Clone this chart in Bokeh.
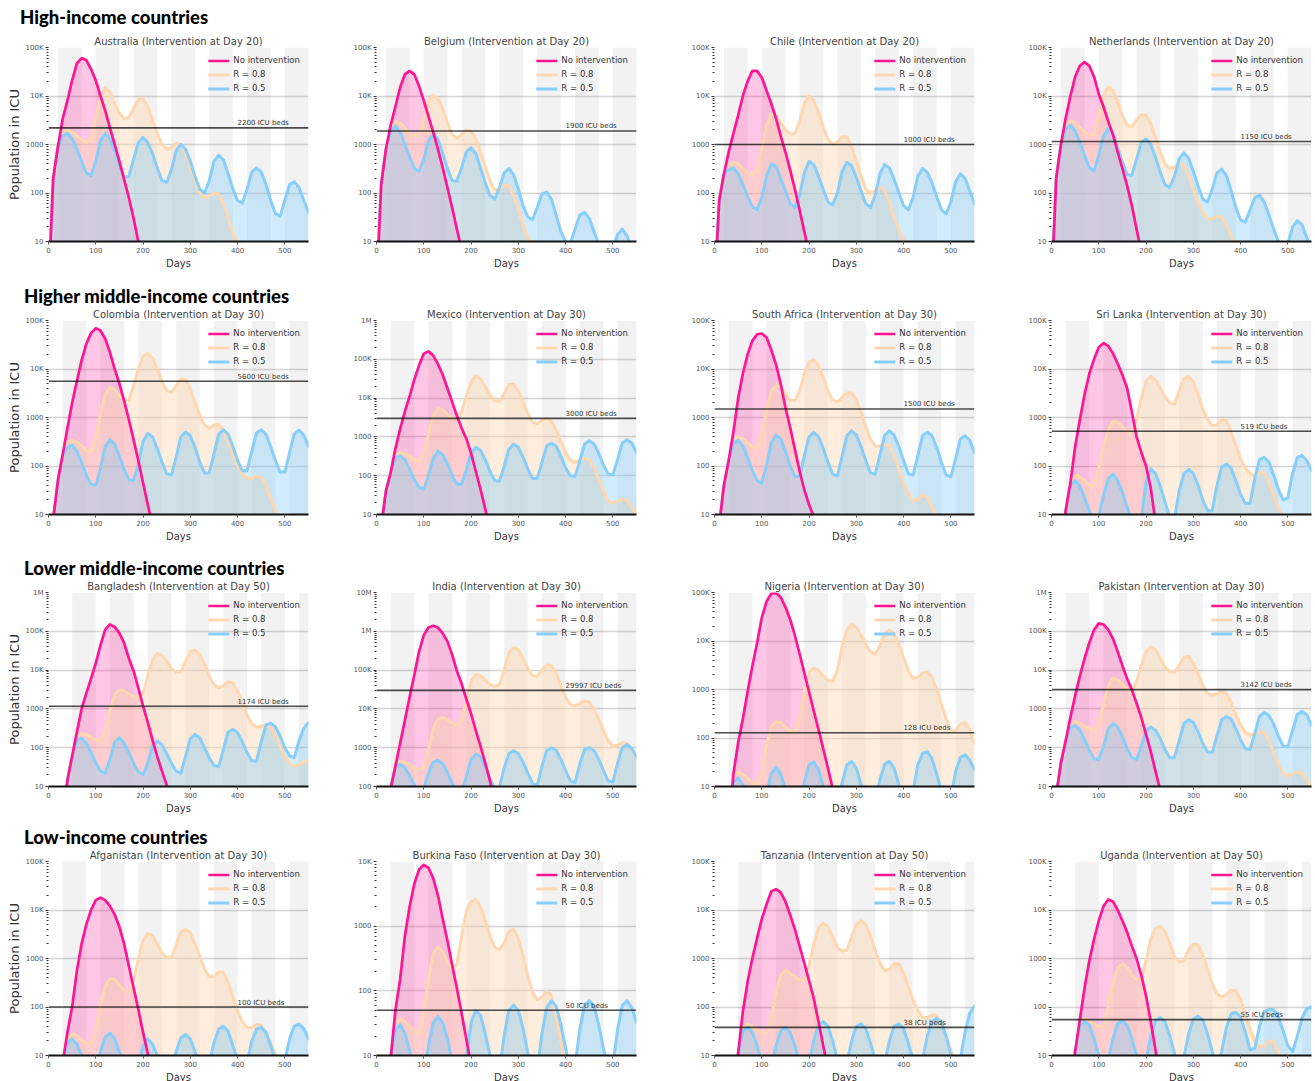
import math
from bokeh.plotting import figure
from bokeh.models import (Div, BoxAnnotation, Span, Label, Legend, LegendItem,
                          FixedTicker, CustomJSTickFormatter, Range1d)
from bokeh.layouts import column, row
from bokeh.embed import file_html
from bokeh.resources import INLINE

# ---------------------------------------------------------------- data
DAYS = [0, 10, 20, 30, 40, 50, 60, 70, 80, 90,
        100, 110, 120, 130, 140, 150, 160, 170, 180, 190,
        200, 210, 220, 230, 240, 250, 260, 270, 280, 290,
        300, 310, 320, 330, 340, 350, 360, 370, 380, 390,
        400, 410, 420, 430, 440, 450, 460, 470, 480, 490,
        500, 510, 520, 530, 540, 550]

GROUPS = ["High-income countries", "Higher middle-income countries",
          "Lower middle-income countries", "Low-income countries"]
COUNTRIES = ["Australia", "Belgium", "Chile", "Netherlands",
             "Colombia", "Mexico", "South Africa", "Sri Lanka",
             "Bangladesh", "India", "Nigeria", "Pakistan",
             "Afganistan", "Burkina Faso", "Tanzania", "Uganda"]
INTERVENTION_DAY = [20, 20, 20, 20, 30, 30, 30, 30, 50, 30, 30, 30, 30, 30, 50, 50]
ICU_BEDS = [2200, 1900, 1000, 1150, 5600, 3000, 1500, 519,
            1174, 29997, 128, 3142, 100, 50, 38, 55]
Y_MIN = [10, 10, 10, 10, 10, 10, 10, 10, 10, 100, 10, 10, 10, 10, 10, 10]
Y_MAX = [100000, 100000, 100000, 100000, 100000, 1000000, 100000, 100000,
         1000000, 10000000, 100000, 1000000, 100000, 10000, 100000, 100000]
ON_DAYS = 50    # suppression period (grey bands)
OFF_DAYS = 30   # relaxation period

AUS_NONE = [1, 200, 900, 3400, 8000, 21000, 47000, 60000, 55000, 36000,
            21000, 10000, 5000, 2200, 1000, 450, 190, 80, 30, 10, 4]
AUS_R08 = [1, 200, 900, 1800, 2000, 1800, 1500, 1250, 1100, 1300,
           3500, 9000, 15000, 12000, 7000, 4500, 3400, 3600, 5500, 8500,
           8800, 6000, 3200, 1700, 1000, 800, 850, 1050, 1000, 650,
           350, 180, 100, 80, 85, 100, 95, 60, 30, 15, 10, 6, 3]
AUS_R05 = [1, 200, 900, 1500, 1700, 1300, 800, 450, 260, 230,
           450, 1200, 1700, 1300, 750, 380, 210, 220, 500, 1100,
           1400, 1100, 650, 330, 180, 165, 300, 750, 1000, 800,
           450, 220, 120, 100, 180, 450, 600, 480, 250, 120,
           70, 62, 120, 270, 330, 270, 150, 70, 38, 33,
           70, 150, 170, 130, 70, 40]

BEL_NONE = [1, 150, 800, 2500, 6000, 15000, 28000, 33000, 28000, 16000,
            8000, 3800, 1800, 800, 330, 130, 50, 18, 7, 3]
BEL_R08 = [1, 150, 800, 2200, 3000, 2800, 2200, 1700, 1500, 1600,
           3500, 8000, 10500, 9000, 5500, 2800, 1600, 1350, 1600, 2000,
           1900, 1300, 700, 350, 180, 115, 115, 145, 140, 90,
           45, 22, 12, 8, 4]
BEL_R05 = [1, 150, 800, 1900, 2400, 1800, 1000, 550, 320, 280,
           500, 1200, 1650, 1300, 650, 320, 180, 175, 330, 700,
           850, 650, 330, 160, 90, 75, 130, 260, 320, 240,
           120, 55, 32, 28, 50, 95, 105, 75, 35, 16,
           10, 9, 18, 35, 40, 30, 16, 9, 5, 4,
           7, 14, 18, 13, 7, 4]

CHL_NONE = [1, 70, 250, 700, 1700, 4000, 10000, 20000, 33000, 33000,
            24000, 13000, 7000, 3500, 1500, 700, 300, 120, 45, 16, 6]
CHL_R08 = [1, 70, 250, 380, 430, 400, 320, 260, 240, 300,
           800, 2500, 4200, 4000, 2800, 2000, 1650, 1700, 3000, 7000,
           10000, 8000, 4500, 2300, 1300, 1000, 1100, 1450, 1450, 900,
           450, 220, 120, 100, 110, 130, 115, 65, 32, 17, 11, 7, 4]
CHL_R05 = [1, 70, 250, 300, 330, 250, 150, 85, 52, 45,
           80, 220, 400, 350, 200, 110, 60, 50, 90, 260,
           450, 380, 220, 120, 65, 57, 100, 280, 430, 370,
           210, 110, 60, 50, 90, 250, 390, 330, 190, 100,
           55, 45, 80, 220, 320, 270, 160, 85, 45, 37,
           65, 170, 250, 200, 110, 60]

NLD_NONE = [1, 200, 1000, 3500, 10000, 25000, 42000, 50000, 42000, 25000,
            11000, 6000, 3000, 1600, 700, 320, 140, 55, 18, 6]
NLD_R08 = [1, 200, 1000, 2500, 3100, 2800, 2200, 1800, 1550, 1600,
           4000, 10000, 15500, 13000, 7500, 4000, 2500, 2300, 3200, 4100,
           4000, 2700, 1400, 700, 400, 320, 340, 400, 380, 230,
           120, 65, 40, 30, 29, 33, 32, 22, 13, 8, 5]
NLD_R05 = [1, 200, 1000, 2100, 2500, 1900, 1100, 600, 330, 290,
           600, 1500, 2100, 1700, 850, 430, 240, 230, 500, 1100,
           1300, 1000, 550, 270, 150, 130, 220, 500, 670, 520,
           280, 140, 75, 65, 120, 260, 310, 230, 110, 50,
           28, 25, 45, 80, 90, 65, 35, 18, 10, 6,
           9, 20, 27, 22, 12, 7]

COL_NONE = [1, 8, 50, 170, 600, 2000, 5600, 15000, 33000, 55000,
            69000, 62000, 42000, 22000, 10000, 5000, 2200, 900, 350, 130,
            45, 16, 6]
COL_R08 = [1, 8, 50, 170, 300, 340, 310, 260, 210, 200,
           400, 1200, 3000, 4200, 3800, 2800, 2200, 2300, 4500, 10000,
           18000, 21000, 17000, 10000, 5500, 3600, 3300, 4500, 6200, 6000,
           3800, 2000, 1100, 700, 600, 700, 720, 550, 320, 170,
           100, 70, 55, 55, 62, 58, 40, 22, 12, 7, 4]
COL_R05 = [1, 8, 50, 170, 240, 270, 200, 120, 65, 42,
           40, 90, 250, 350, 280, 160, 85, 52, 50, 110,
           320, 470, 400, 230, 120, 70, 65, 150, 400, 500,
           420, 240, 120, 72, 72, 180, 450, 560, 450, 250,
           130, 80, 80, 200, 480, 560, 450, 250, 130, 75,
           75, 190, 460, 550, 430, 260]

MEX_NONE = [1, 5, 40, 120, 500, 1600, 4500, 11000, 30000, 70000,
            140000, 160000, 125000, 75000, 40000, 18000, 8000, 3500, 1700, 900,
            380, 130, 45, 14, 4]
MEX_R08 = [1, 5, 40, 120, 330, 400, 370, 320, 260, 230,
           400, 1200, 3500, 5300, 5000, 3800, 3000, 2900, 4500, 11000,
           25000, 38000, 32000, 20000, 12000, 8700, 8200, 13000, 22000, 23000,
           15000, 8000, 4000, 2400, 2200, 2700, 3000, 2600, 1500, 750,
           400, 260, 220, 250, 280, 260, 160, 80, 40, 22,
           20, 22, 25, 23, 15, 10]
MEX_R05 = [1, 5, 40, 120, 290, 330, 250, 150, 80, 50,
           45, 100, 280, 430, 350, 200, 100, 60, 60, 140,
           380, 540, 450, 260, 130, 75, 72, 170, 480, 650,
           540, 300, 150, 85, 85, 220, 580, 700, 580, 320,
           160, 100, 95, 240, 650, 800, 660, 380, 190, 110,
           105, 260, 700, 850, 700, 400]

ZAF_NONE = [1, 6, 40, 130, 500, 2500, 8000, 20000, 38000, 52000,
            54000, 45000, 25000, 12500, 5000, 1600, 630, 220, 80, 32,
            16, 9, 3]
ZAF_R08 = [1, 6, 40, 130, 320, 400, 370, 300, 250, 230,
           450, 1400, 3500, 4700, 4200, 3000, 2300, 2200, 3500, 8000,
           14000, 15500, 12000, 6500, 3500, 2300, 2100, 2600, 3200, 3200,
           2300, 1300, 650, 350, 260, 255, 280, 260, 160, 85,
           45, 27, 19, 20, 25, 23, 14, 9, 5]
ZAF_R05 = [1, 6, 40, 130, 300, 340, 260, 150, 80, 50,
           45, 100, 300, 430, 360, 200, 100, 60, 62, 160,
           400, 490, 400, 230, 120, 68, 62, 160, 420, 530,
           440, 250, 130, 72, 68, 170, 430, 530, 440, 250,
           130, 70, 65, 160, 420, 500, 420, 240, 120, 65,
           60, 140, 360, 420, 340, 190]

LKA_NONE = [1, 1, 1, 12, 45, 250, 900, 3000, 8000, 16000,
            28000, 34000, 30000, 21000, 13000, 7500, 4000, 1300, 400, 190,
            100, 35, 7]
LKA_R08 = [1, 1, 1, 12, 48, 65, 60, 50, 40, 40,
           90, 250, 550, 820, 800, 650, 520, 480, 900, 2500,
           5500, 7000, 6000, 4000, 2700, 2000, 1900, 3500, 6300, 7000,
           5500, 3000, 1500, 900, 680, 700, 920, 880, 500, 260,
           140, 90, 70, 62, 75, 72, 45, 25, 14, 9, 5]
LKA_R05 = [1, 1, 1, 12, 40, 50, 38, 22, 12, 7,
           9, 25, 55, 68, 50, 28, 14, 8, 5, 8,
           45, 88, 70, 38, 18, 9, 8, 30, 70, 85,
           70, 40, 20, 12, 12, 40, 95, 110, 90, 50,
           26, 17, 17, 55, 135, 150, 120, 65, 33, 20,
           22, 70, 150, 165, 130, 80]

BGD_NONE = [1, 1, 1, 1, 14, 60, 250, 1000, 2500, 6000,
            15000, 44000, 110000, 150000, 130000, 90000, 50000, 20000, 9500, 3500,
            1200, 450, 160, 60, 25, 11, 4]
BGD_R08 = [1, 1, 1, 1, 15, 60, 200, 230, 220, 190,
           160, 150, 250, 900, 2300, 3100, 2900, 2400, 2100, 1900,
           2500, 7000, 18000, 27000, 24000, 17000, 11000, 8800, 9000, 17000,
           30000, 33000, 25000, 14000, 7000, 4200, 3500, 4000, 5000, 4600,
           2800, 1400, 700, 420, 340, 350, 400, 330, 200, 110,
           60, 40, 33, 36, 44, 46]
BGD_R05 = [1, 1, 1, 1, 15, 60, 160, 175, 130, 75,
           40, 25, 22, 50, 140, 180, 130, 75, 40, 24,
           20, 40, 110, 150, 120, 70, 40, 25, 22, 60,
           170, 220, 180, 100, 55, 35, 32, 90, 250, 300,
           240, 140, 75, 46, 45, 140, 380, 430, 350, 200,
           100, 62, 56, 150, 320, 450]

IND_NONE = [1, 1, 1, 90, 330, 1300, 5000, 20000, 75000, 300000,
            800000, 1250000, 1400000, 1250000, 900000, 550000, 250000, 95000, 45000, 18000,
            7500, 2800, 1100, 400, 140, 45]
IND_R08 = [1, 1, 1, 90, 350, 450, 420, 360, 300, 270,
           320, 900, 3000, 5500, 6000, 5200, 4200, 3700, 5000, 15000,
           50000, 78000, 72000, 55000, 42000, 38000, 42000, 100000, 280000, 390000,
           340000, 200000, 110000, 72000, 70000, 100000, 135000, 130000, 85000, 40000,
           20000, 13000, 12000, 14000, 16000, 15000, 10000, 5500, 2800, 1500,
           1100, 1150, 1350, 1300, 900, 550]
IND_R05 = [1, 1, 1, 90, 320, 370, 300, 190, 110, 75,
           90, 220, 420, 480, 380, 230, 120, 80, 75, 180,
           500, 680, 580, 330, 160, 90, 95, 300, 700, 830,
           700, 420, 220, 120, 105, 330, 850, 1000, 850, 500,
           260, 140, 125, 380, 900, 1000, 850, 500, 260, 140,
           130, 400, 1000, 1200, 950, 580]

NGA_NONE = [1, 1, 1, 1, 18, 80, 250, 900, 3000, 9000,
            30000, 65000, 95000, 98000, 80000, 50000, 28000, 13000, 5500, 2200,
            900, 360, 150, 60, 24, 9]
NGA_R08 = [1, 1, 1, 1, 17, 20, 18, 15, 12, 11,
           20, 70, 170, 220, 210, 170, 140, 130, 250, 900,
           2200, 2800, 2500, 1900, 1550, 1500, 2500, 8000, 17000, 22000,
           19000, 13000, 8500, 6000, 5300, 8000, 14000, 17000, 14000, 8500,
           4500, 2400, 1700, 1800, 2200, 2300, 1800, 1000, 500, 250,
           145, 140, 190, 210, 150, 75]
NGA_R05 = [1, 1, 1, 1, 12, 15, 11, 6, 3, 2,
           3, 7, 18, 25, 18, 9, 4, 2, 4, 12,
           28, 32, 22, 10, 4, 2, 4, 12, 28, 33,
           24, 11, 5, 3, 5, 14, 29, 33, 24, 11,
           5, 4, 8, 28, 48, 52, 38, 18, 8, 4,
           6, 20, 40, 45, 35, 22]

PAK_NONE = [1, 6, 40, 150, 600, 2200, 7000, 20000, 50000, 110000,
            160000, 150000, 110000, 65000, 30000, 13000, 6000, 3100, 1400, 600,
            220, 80, 25, 8]
PAK_R08 = [1, 6, 40, 150, 400, 470, 430, 360, 310, 280,
           450, 1300, 3800, 6000, 5700, 4200, 3200, 2900, 5000, 13000,
           30000, 40000, 33000, 20000, 12000, 9000, 8800, 13000, 21000, 23000,
           15000, 8000, 4000, 2500, 2250, 2500, 2800, 2500, 1400, 700,
           380, 250, 210, 230, 260, 250, 150, 75, 38, 22,
           19, 21, 24, 22, 15, 10]
PAK_R05 = [1, 6, 40, 150, 330, 370, 280, 160, 85, 52,
           50, 110, 300, 420, 340, 190, 95, 55, 50, 110,
           270, 340, 280, 170, 90, 55, 55, 150, 420, 530,
           450, 260, 130, 78, 75, 200, 520, 640, 540, 310,
           160, 95, 90, 230, 640, 800, 680, 400, 200, 110,
           105, 280, 720, 860, 700, 380]

AFG_NONE = [1, 1, 1, 7, 30, 100, 550, 2000, 5000, 10000,
            16000, 18000, 16000, 12000, 8000, 4500, 2000, 700, 250, 90,
            30, 11, 4]
AFG_R08 = [1, 1, 1, 7, 22, 28, 26, 21, 18, 17,
           35, 110, 270, 380, 370, 290, 220, 200, 350, 1000,
           2300, 3300, 3000, 2000, 1300, 1050, 1050, 1900, 3500, 4000,
           3300, 2000, 1100, 600, 420, 430, 530, 520, 320, 160,
           80, 50, 38, 38, 43, 42, 30, 18, 11, 7, 4]
AFG_R05 = [1, 1, 1, 8, 18, 22, 17, 10, 5, 4,
           6, 12, 24, 29, 22, 12, 6, 3, 3, 6,
           16, 22, 17, 10, 5, 3, 5, 12, 23, 27,
           22, 12, 6, 4, 7, 18, 35, 40, 32, 16,
           8, 5, 7, 20, 35, 38, 30, 16, 8, 5,
           8, 22, 40, 45, 36, 22]

BFA_NONE = [1, 1, 1, 9, 50, 150, 700, 2000, 4500, 7500,
            8900, 8000, 5500, 3000, 1300, 600, 250, 110, 45, 18, 7]
BFA_R08 = [1, 1, 1, 9, 30, 37, 34, 28, 24, 22,
           50, 150, 380, 480, 400, 280, 225, 260, 700, 1700,
           2400, 2600, 2000, 1200, 700, 480, 430, 550, 820, 900,
           650, 350, 170, 95, 72, 80, 100, 85, 40, 16, 7]
BFA_R05 = [1, 1, 1, 10, 25, 30, 22, 12, 5, 3,
           5, 14, 32, 40, 32, 18, 8, 4, 4, 9,
           32, 50, 42, 22, 10, 5, 6, 20, 50, 60,
           50, 26, 11, 5, 6, 22, 55, 70, 58, 30,
           13, 6, 7, 25, 60, 70, 58, 30, 13, 6,
           7, 25, 60, 70, 55, 33]

TZA_NONE = [1, 1, 1, 1, 1, 11, 80, 330, 1000, 2600,
            6500, 13000, 24000, 27000, 23000, 15000, 8000, 4000, 1800, 800,
            350, 150, 50, 16, 5]
TZA_R08 = [1, 1, 1, 1, 1, 11, 40, 45, 40, 34,
           30, 28, 60, 200, 450, 570, 500, 420, 360, 350,
           700, 2000, 4300, 5400, 4500, 2800, 1700, 1400, 1500, 2800,
           5000, 6000, 5000, 2900, 1500, 800, 560, 600, 780, 780,
           500, 260, 140, 85, 62, 60, 68, 68, 45, 25, 13, 7]
TZA_R05 = [1, 1, 1, 1, 1, 11, 32, 38, 30, 16,
           7, 4, 6, 16, 32, 38, 30, 16, 7, 4,
           7, 20, 42, 50, 40, 20, 8, 4, 7, 20,
           40, 45, 36, 18, 8, 4, 7, 20, 40, 45,
           36, 18, 8, 4, 8, 25, 50, 59, 48, 25,
           10, 5, 8, 30, 75, 105]

UGA_NONE = [1, 1, 1, 1, 1, 12, 55, 250, 900, 2500,
            6000, 12000, 16500, 15000, 10000, 6000, 3500, 1800, 1000, 450,
            170, 50, 13, 4]
UGA_R08 = [1, 1, 1, 1, 1, 12, 45, 58, 52, 45,
           39, 40, 100, 330, 650, 780, 650, 450, 370, 380,
           900, 2500, 4200, 4600, 3600, 2000, 1100, 850, 900, 1500,
           2000, 1900, 1200, 600, 300, 190, 160, 180, 225, 220,
           140, 70, 35, 20, 15, 16, 20, 19, 12, 7]
UGA_R05 = [1, 1, 1, 1, 1, 12, 40, 50, 42, 22,
           10, 5, 8, 22, 45, 52, 42, 22, 10, 5,
           8, 25, 52, 61, 50, 26, 11, 5, 9, 28,
           56, 65, 54, 28, 12, 6, 12, 38, 72, 78,
           62, 30, 13, 14, 40, 80, 90, 88, 62, 32,
           16, 12, 25, 60, 92, 100]

NO_INTERVENTION = [AUS_NONE, BEL_NONE, CHL_NONE, NLD_NONE, COL_NONE, MEX_NONE, ZAF_NONE, LKA_NONE,
                   BGD_NONE, IND_NONE, NGA_NONE, PAK_NONE, AFG_NONE, BFA_NONE, TZA_NONE, UGA_NONE]
R_08 = [AUS_R08, BEL_R08, CHL_R08, NLD_R08, COL_R08, MEX_R08, ZAF_R08, LKA_R08,
        BGD_R08, IND_R08, NGA_R08, PAK_R08, AFG_R08, BFA_R08, TZA_R08, UGA_R08]
R_05 = [AUS_R05, BEL_R05, CHL_R05, NLD_R05, COL_R05, MEX_R05, ZAF_R05, LKA_R05,
        BGD_R05, IND_R05, NGA_R05, PAK_R05, AFG_R05, BFA_R05, TZA_R05, UGA_R05]

# ---------------------------------------------------------------- style
PINK = "#ff1493"
PEACH = "#ffd7b0"
SKY = "#87cefa"
FONT = "DejaVu Sans"
FRAME_W, FRAME_H = 260, 194
LEFT_BORDER = [48, 40, 40, 40]
RIGHT_BORDER = [28, 38, 37, 2]
TOP_BORDER = 15
BOTTOM_BORDER = [46, 45, 42, 25]
HEAD_H = [24, 18, 18, 18]

TICK_JS = """
const t = Math.round(tick);
if (t >= 1000000) return (t / 1000000).toFixed(0) + 'M';
if (t >= 10000) return (t / 1000).toFixed(0) + 'K';
return t.toFixed(0);
"""


def make_panel(i):
    col = i % 4
    rw = i // 4
    lo, hi = Y_MIN[i], Y_MAX[i]
    p = figure(frame_width=FRAME_W, frame_height=FRAME_H, y_axis_type="log",
               x_range=Range1d(0, 550), y_range=Range1d(lo, hi),
               output_backend="svg", toolbar_location=None,
               min_border_left=LEFT_BORDER[col], min_border_right=RIGHT_BORDER[col],
               min_border_top=TOP_BORDER, min_border_bottom=BOTTOM_BORDER[rw])
    p.title.text = f"{COUNTRIES[i]} (Intervention at Day {INTERVENTION_DAY[i]})"
    p.title.align = "center"
    p.title.text_font = FONT
    p.title.text_font_size = "10px"
    p.title.text_font_style = "normal"
    p.title.text_color = "#444444"
    p.title.standoff = 2
    p.outline_line_color = None
    p.background_fill_color = "white"
    p.border_fill_color = "white"

    # intervention schedule bands
    s = INTERVENTION_DAY[i]
    while s < 550:
        p.add_layout(BoxAnnotation(left=s, right=min(s + ON_DAYS, 550),
                                   fill_color="#7f7f7f", fill_alpha=0.1,
                                   line_color=None, level="underlay"))
        s += ON_DAYS + OFF_DAYS

    p.xgrid.grid_line_color = None
    p.ygrid.grid_line_color = "#d4d4d4"
    p.ygrid.grid_line_width = 1.5

    series = [(NO_INTERVENTION[i], PINK, 0.24, 2.7),
              (R_08[i], PEACH, 0.42, 3.0),
              (R_05[i], SKY, 0.38, 3.0)]
    for vals, colr, fa, lw in series:
        p.varea(x=DAYS[:len(vals)], y1=lo, y2=vals, fill_color=colr, fill_alpha=fa)
    lines = {}
    for idx in (1, 2, 0):
        vals, colr, fa, lw = series[idx]
        lines[idx] = p.line(x=DAYS[:len(vals)], y=vals, line_color=colr,
                            line_width=lw, line_join="round", line_cap="round")

    beds = ICU_BEDS[i]
    p.add_layout(Span(location=beds, dimension="width", line_color="#111111",
                      line_width=1.6, line_alpha=0.75))
    p.add_layout(Label(x=400, y=beds, y_offset=0.5, text=f"{beds} ICU beds",
                       text_font=FONT, text_font_size="7px", text_color="#333333",
                       text_baseline="bottom"))

    legend = Legend(items=[LegendItem(label="No intervention", renderers=[lines[0]]),
                           LegendItem(label="R = 0.8", renderers=[lines[1]]),
                           LegendItem(label="R = 0.5", renderers=[lines[2]])],
                    location="top_right", background_fill_alpha=0,
                    border_line_alpha=0, label_text_font=FONT,
                    label_text_font_size="8.6px", label_text_color="#333333",
                    glyph_width=21, glyph_height=9, label_height=9,
                    spacing=4, padding=2, margin=6, label_standoff=4)
    p.add_layout(legend)

    e0 = int(round(math.log10(lo)))
    e1 = int(round(math.log10(hi)))
    majors = [10 ** k for k in range(e0, e1 + 1)]
    minors = [m * 10 ** k for k in range(e0, e1) for m in range(2, 10)]
    p.yaxis.ticker = FixedTicker(ticks=majors, minor_ticks=minors)
    p.yaxis.formatter = CustomJSTickFormatter(code=TICK_JS)
    p.yaxis.axis_line_color = None
    p.yaxis.major_tick_line_color = "#333333"
    p.yaxis.minor_tick_line_color = "#333333"
    p.yaxis.major_tick_out = 3
    p.yaxis.major_tick_in = 0
    p.yaxis.minor_tick_out = 2
    p.yaxis.minor_tick_in = 0
    p.yaxis.major_label_text_font = FONT
    p.yaxis.major_label_text_font_size = "7px"
    p.yaxis.major_label_text_color = "#555555"
    p.yaxis.major_label_standoff = 2
    if col == 0:
        p.yaxis.axis_label = "Population in ICU"
        p.yaxis.axis_label_text_font = FONT
        p.yaxis.axis_label_text_font_size = "13px"
        p.yaxis.axis_label_text_font_style = "normal"
        p.yaxis.axis_label_text_color = "#333333"
        p.yaxis.axis_label_standoff = 1

    p.xaxis.ticker = FixedTicker(ticks=[0, 100, 200, 300, 400, 500], minor_ticks=[])
    p.xaxis.axis_line_color = "#111111"
    p.xaxis.axis_line_width = 2
    p.xaxis.major_tick_line_color = "#555555"
    p.xaxis.major_tick_out = 3
    p.xaxis.major_tick_in = 0
    p.xaxis.major_label_text_font = FONT
    p.xaxis.major_label_text_font_size = "7px"
    p.xaxis.major_label_text_color = "#555555"
    p.xaxis.major_label_standoff = 2
    p.xaxis.axis_label = "Days"
    p.xaxis.axis_label_text_font = FONT
    p.xaxis.axis_label_text_font_size = "10px"
    p.xaxis.axis_label_text_font_style = "normal"
    p.xaxis.axis_label_text_color = "#333333"
    p.xaxis.axis_label_standoff = 2
    return p


children = []
for g in range(4):
    children.append(Div(text=GROUPS[g], width=420, height=HEAD_H[g],
                        margin=(8 if g == 0 else 0, 0, 0, 20 if g == 0 else 24),
                        styles={"font-family": "Lato, 'Open Sans', sans-serif",
                                "font-weight": "900", "font-size": "18.5px",
                                "line-height": "18px", "color": "#000000",
                                "white-space": "nowrap"}))
    children.append(row(*[make_panel(4 * g + c) for c in range(4)], spacing=0))

layout = column(*children, spacing=0)

open("out.html", "w").write(file_html(layout, INLINE, title="ICU population"))
